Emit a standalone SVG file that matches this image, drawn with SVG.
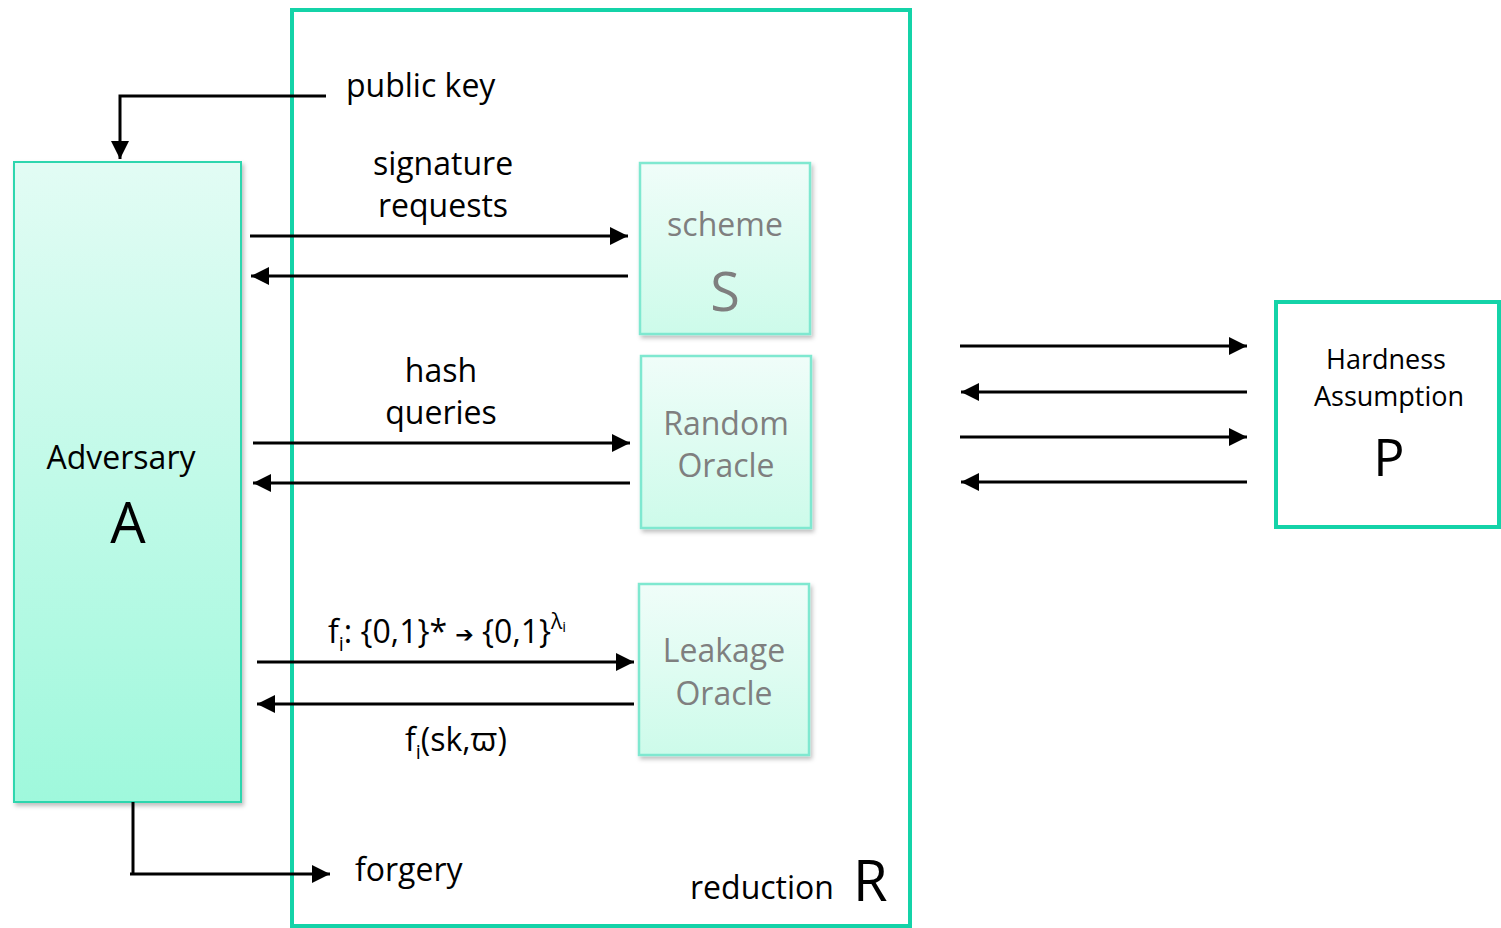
<svg xmlns="http://www.w3.org/2000/svg" width="1501" height="928" viewBox="0 0 1501 928">
<style>
text{font-family:"Open Sans","Noto Sans",sans-serif;fill:#000}
.lbl{font-size:32px}
.gray{fill:#7f7f7f}
.ln{stroke:#000;stroke-width:3;fill:none}
.inner{stroke:#7fe8d0;stroke-width:2.5}
</style>
<defs>
<linearGradient id="gA" x1="0" y1="0" x2="0" y2="1"><stop offset="0" stop-color="#e2fcf4"/><stop offset="1" stop-color="#9ff8dc"/></linearGradient>
<linearGradient id="gB" x1="0" y1="0" x2="0" y2="1"><stop offset="0" stop-color="#f0fdf9"/><stop offset="1" stop-color="#cdfbea"/></linearGradient>
<filter id="sh" x="-10%" y="-10%" width="130%" height="130%"><feDropShadow dx="2" dy="3" stdDeviation="2" flood-color="#000" flood-opacity="0.25"/></filter>
<marker id="ar" viewBox="0 0 10 10" refX="10" refY="5" markerWidth="6" markerHeight="6" markerUnits="strokeWidth" orient="auto"><path d="M0,0L10,5L0,10z" fill="#000"/></marker>
</defs>
<g id="reduction">
<rect x="292" y="10" width="618" height="916" fill="none" stroke="#14d3a8" stroke-width="4"/>
<text x="690" y="899" class="lbl">reduction</text>
<text x="853" y="901" font-size="56">R</text>
</g>
<g id="adversary">
<rect x="14" y="162" width="227" height="640" fill="url(#gA)" stroke="#2fd6ae" stroke-width="2" filter="url(#sh)"/>
<text x="121" y="469" text-anchor="middle" class="lbl">Adversary</text>
<text x="128" y="543" text-anchor="middle" font-size="56">A</text>
</g>
<g id="scheme">
<rect x="640" y="163" width="170" height="171" fill="url(#gB)" class="inner" filter="url(#sh)"/>
<text x="725" y="236" text-anchor="middle" class="lbl gray">scheme</text>
<text x="725" y="311" text-anchor="middle" font-size="54" class="gray">S</text>
</g>
<g id="random-oracle">
<rect x="641" y="356" width="170" height="172" fill="url(#gB)" class="inner" filter="url(#sh)"/>
<text x="726" y="435" text-anchor="middle" class="lbl gray">Random</text>
<text x="726" y="477" text-anchor="middle" class="lbl gray">Oracle</text>
</g>
<g id="leakage-oracle">
<rect x="639" y="584" width="170" height="171" fill="url(#gB)" class="inner" filter="url(#sh)"/>
<text x="724" y="662" text-anchor="middle" class="lbl gray">Leakage</text>
<text x="724" y="705" text-anchor="middle" class="lbl gray">Oracle</text>
</g>
<g id="hardness">
<rect x="1276" y="302" width="223" height="225" fill="#fff" stroke="#14d3a8" stroke-width="4"/>
<text x="1386" y="369" text-anchor="middle" font-size="27">Hardness</text>
<text x="1389" y="406" text-anchor="middle" font-size="27">Assumption</text>
<text x="1389" y="476" text-anchor="middle" font-size="52">P</text>
</g>
<g id="connectors">
<polyline class="ln" points="326,96 120,96 120,159" marker-end="url(#ar)"/>
<line class="ln" x1="250" y1="236" x2="628" y2="236" marker-end="url(#ar)"/>
<line class="ln" x1="628" y1="276" x2="251" y2="276" marker-end="url(#ar)"/>
<line class="ln" x1="253" y1="443" x2="630" y2="443" marker-end="url(#ar)"/>
<line class="ln" x1="630" y1="483" x2="253" y2="483" marker-end="url(#ar)"/>
<line class="ln" x1="257" y1="662" x2="634" y2="662" marker-end="url(#ar)"/>
<line class="ln" x1="634" y1="704" x2="257" y2="704" marker-end="url(#ar)"/>
<polyline class="ln" points="133,802 133,874" />
<line class="ln" x1="130" y1="874" x2="330" y2="874" marker-end="url(#ar)"/>
<line class="ln" x1="960" y1="346" x2="1247" y2="346" marker-end="url(#ar)"/>
<line class="ln" x1="1247" y1="392" x2="961" y2="392" marker-end="url(#ar)"/>
<line class="ln" x1="960" y1="437" x2="1247" y2="437" marker-end="url(#ar)"/>
<line class="ln" x1="1247" y1="482" x2="961" y2="482" marker-end="url(#ar)"/>
</g>
<g id="labels">
<text x="346" y="97" class="lbl">public key</text>
<text x="443" y="175" text-anchor="middle" class="lbl">signature</text>
<text x="443" y="217" text-anchor="middle" class="lbl">requests</text>
<text x="441" y="382" text-anchor="middle" class="lbl">hash</text>
<text x="441" y="424" text-anchor="middle" class="lbl">queries</text>
<text x="328" y="643" class="lbl">f<tspan font-size="20" dy="8">i</tspan><tspan dy="-8">: {0,1}* </tspan><tspan font-family="DejaVu Sans" font-size="22" font-weight="bold" dy="-1">➔</tspan><tspan dy="1"> {0,1}</tspan><tspan font-size="21" dy="-14">λ</tspan><tspan font-size="15" dy="3">i</tspan></text>
<text x="405" y="751" class="lbl">f<tspan font-size="20" dy="8">i</tspan><tspan dy="-8">(sk,ϖ)</tspan></text>
<text x="355" y="881" class="lbl">forgery</text>
</g>
</svg>
